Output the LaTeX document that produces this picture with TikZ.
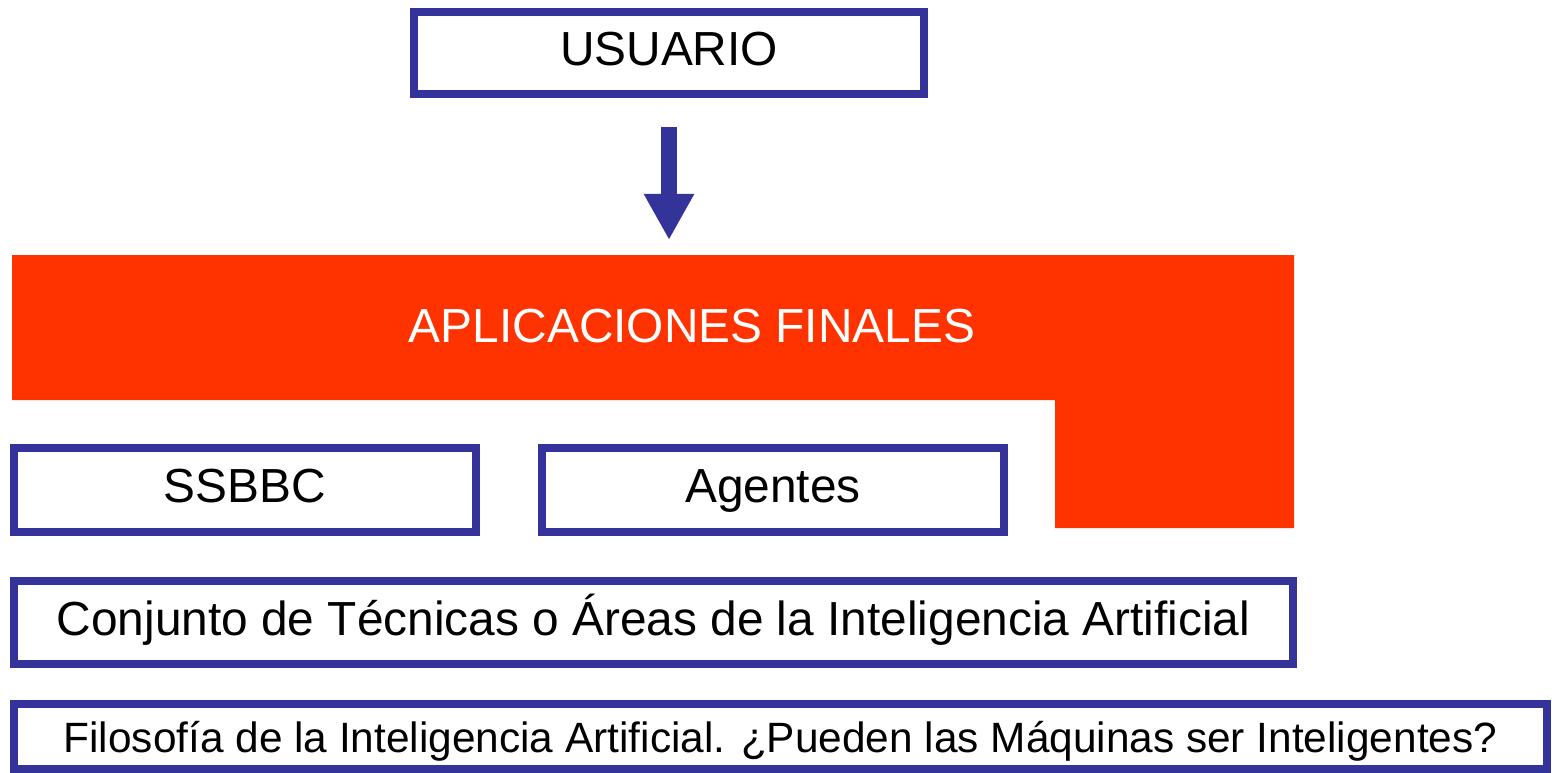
\documentclass[tikz,border=0pt]{standalone}
\usepackage{fontspec}
\setmainfont{Liberation Sans}
\usetikzlibrary{arrows.meta}
\usetikzlibrary{positioning}
\definecolor{boxblue}{HTML}{333399}
\definecolor{apporange}{HTML}{FF3300}

\begin{document}
\begin{tikzpicture}[x=0.01cm,y=-0.01cm,
    layer box/.style={rectangle,draw=boxblue,line width=0.08cm,fill=white,inner sep=0pt,
      text height=0.716em,text depth=0pt,font=\fontsize{13.6}{16}\selectfont},
    big arrow/.style={draw=boxblue,line width=0.16cm,-{Triangle[width=0.47cm,length=0.46cm]}}]
    \useasboundingbox (0,0) rectangle (1552,773);
    % bloque de aplicaciones
    \fill[apporange] (12,255) -- (1294,255) -- (1294,528) -- (1055,528) -- (1055,400) -- (12,400) -- cycle;
    \node[font=\fontsize{13.6}{16}\selectfont,text=white,text height=0.716em,text depth=0pt] (apps) at (692,330) {APLICACIONES FINALES};
    \coordinate (appstop) at (669,255);

    \node[layer box,minimum width=5.10cm,minimum height=0.82cm] (usuario) at (669,53) {USUARIO};
    \node[layer box,minimum width=4.62cm,minimum height=0.84cm] (ssbbc) at (245,490) {SSBBC};
    \node[layer box,minimum width=4.62cm,minimum height=0.84cm] (agentes) at (773,490) {Agentes};
    \node[layer box,minimum width=12.79cm,minimum height=0.83cm] (tecnicas) at (653.5,622.5) {Conjunto de Técnicas o Áreas de la Inteligencia Artificial};
    \node[layer box,minimum width=15.33cm,minimum height=0.65cm,font=\fontsize{12.05}{14}\selectfont,text height=0.93em] (filosofia) at (780.5,736.5) {Filosofía de la Inteligencia Artificial. ¿Pueden las Máquinas ser Inteligentes?};

    \draw[big arrow,shorten <=0.29cm,shorten >=0.15cm] (usuario.south) -- (appstop);
\end{tikzpicture}
\end{document}
